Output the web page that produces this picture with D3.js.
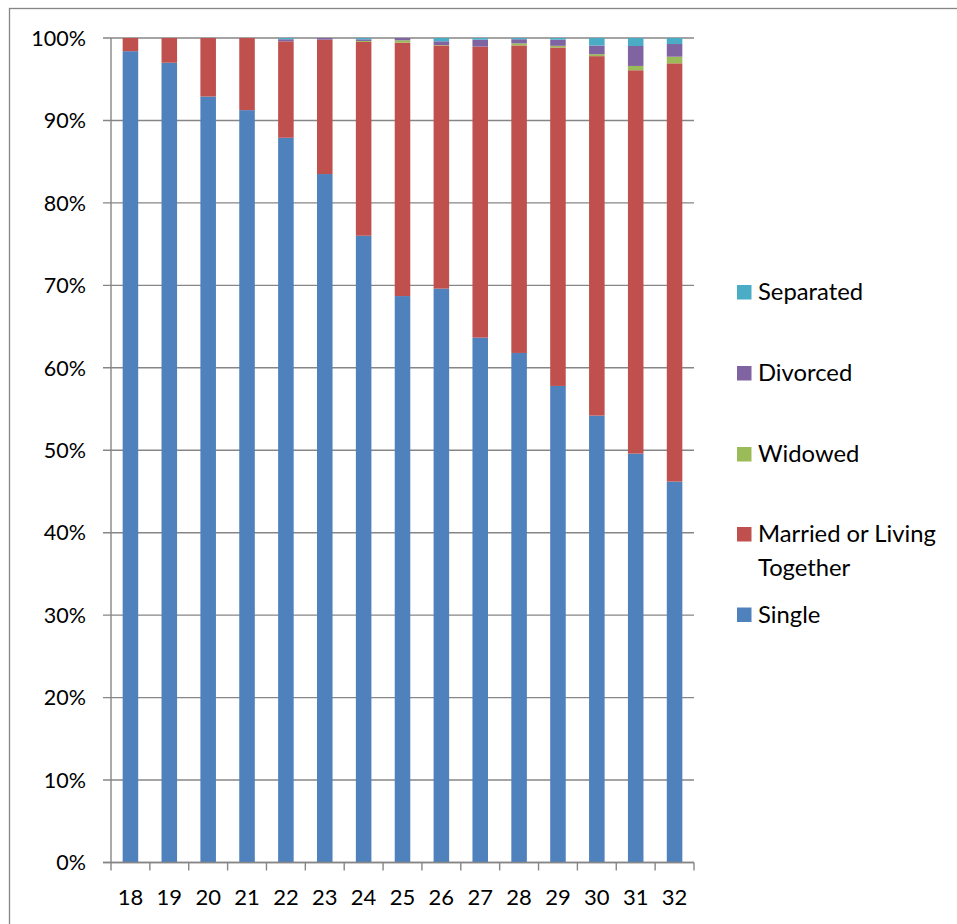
<!DOCTYPE html>
<html>
<head>
<meta charset="utf-8">
<script src="https://cdn.jsdelivr.net/npm/d3@7/dist/d3.min.js"></script>
<style>
  html, body { margin: 0; padding: 0; background: #fff; }
  svg { display: block; }
  text { font-family: Lato, "Noto Sans", sans-serif; fill: #000; }
</style>
</head>
<body>
<svg id="chart" width="957" height="924"></svg>
<script>
// Marital status by age, share of each age group (%)
const ages = ["18","19","20","21","22","23","24","25","26","27","28","29","30","31","32"];
const single    = [98.4, 97.0, 92.9, 91.25, 87.9, 83.5, 76.0, 68.7, 69.6, 63.66, 61.8, 57.8, 54.2, 49.6, 46.2];
const married   = [1.6, 3.0, 7.1, 8.75, 11.7, 16.3, 23.5, 30.74, 29.5, 35.29, 37.3, 41.05, 43.6, 46.5, 50.73];
const widowed   = [0, 0, 0, 0, 0, 0, 0.12, 0.28, 0.05, 0, 0.25, 0.2, 0.24, 0.52, 0.8];
const divorced  = [0, 0, 0, 0, 0.25, 0.2, 0.2, 0.28, 0.45, 0.85, 0.5, 0.75, 1.05, 2.42, 1.54];
const separated = [0, 0, 0, 0, 0.15, 0, 0.16, 0, 0.4, 0.2, 0.15, 0.2, 0.91, 0.97, 0.73];

const seriesNames = ["Single", "Married or Living Together", "Widowed", "Divorced", "Separated"];
const seriesColors = ["#4F81BD", "#C0504D", "#9BBB59", "#8064A2", "#4BACC6"];
const yTickLabels = ["0%","10%","20%","30%","40%","50%","60%","70%","80%","90%","100%"];

const seriesValues = [single, married, widowed, divorced, separated];
const rows = ages.map((age, i) => {
  const r = { age };
  seriesNames.forEach((name, s) => { r[name] = seriesValues[s][i]; });
  return r;
});

const svg = d3.select("#chart");
const plot = { left: 111, right: 694, top: 38, bottom: 862.5 };
const gridColor = "#868686";

// outer chart frame
svg.append("rect")
  .attr("x", 9.5).attr("y", 8.5)
  .attr("width", 1000).attr("height", 1000)
  .attr("fill", "none").attr("stroke", gridColor).attr("stroke-width", 1.3);

const x = d3.scaleBand()
  .domain(ages)
  .range([plot.left, plot.right])
  .paddingInner(0.6)
  .paddingOuter(0.3);

const y = d3.scaleLinear().domain([0, 1]).range([plot.bottom, plot.top]);

// horizontal gridlines with left tick marks
const yTicks = d3.range(0, 11).map(d => d / 10);
svg.append("g").selectAll("line")
  .data(yTicks)
  .join("line")
  .attr("x1", plot.left - 8).attr("x2", plot.right)
  .attr("y1", d => y(d)).attr("y2", d => y(d))
  .attr("stroke", gridColor).attr("stroke-width", 1.4);

svg.append("g").selectAll("text")
  .data(yTicks)
  .join("text")
  .attr("x", 86)
  .attr("y", d => y(d))
  .attr("dy", "0.36em")
  .attr("text-anchor", "end")
  .style("font-size", "21.5px")
  .text((d, i) => yTickLabels[i]);

// stacked 100% bars
const stack = d3.stack().keys(seriesNames).offset(d3.stackOffsetExpand);
const layers = stack(rows);

svg.append("g").selectAll("g")
  .data(layers)
  .join("g")
  .attr("fill", (d, i) => seriesColors[i])
  .selectAll("rect")
  .data(d => d)
  .join("rect")
  .attr("x", d => x(d.data.age))
  .attr("width", x.bandwidth())
  .attr("y", d => y(d[1]))
  .attr("height", d => Math.max(0, y(d[0]) - y(d[1])));

// axes lines
svg.append("line")
  .attr("x1", plot.left).attr("x2", plot.left)
  .attr("y1", plot.top).attr("y2", plot.bottom)
  .attr("stroke", gridColor).attr("stroke-width", 1.4);

svg.append("line")
  .attr("x1", plot.left - 8).attr("x2", plot.right)
  .attr("y1", plot.bottom).attr("y2", plot.bottom)
  .attr("stroke", gridColor).attr("stroke-width", 1.4);

// category boundary ticks below the axis
const step = x.step();
const xBounds = d3.range(0, ages.length + 1).map(i => plot.left + i * step);
svg.append("g").selectAll("line")
  .data(xBounds)
  .join("line")
  .attr("x1", d => d).attr("x2", d => d)
  .attr("y1", plot.bottom).attr("y2", plot.bottom + 8)
  .attr("stroke", gridColor).attr("stroke-width", 1.4);

svg.append("g").selectAll("text")
  .data(ages)
  .join("text")
  .attr("x", d => x(d) + x.bandwidth() / 2)
  .attr("y", 905)
  .attr("text-anchor", "middle")
  .style("font-size", "22px")
  .text(d => d);

// legend (top entry is last series)
const legendItems = [
  { name: "Separated", color: seriesColors[4], y: 285, lines: ["Separated"] },
  { name: "Divorced", color: seriesColors[3], y: 366, lines: ["Divorced"] },
  { name: "Widowed", color: seriesColors[2], y: 447, lines: ["Widowed"] },
  { name: "Married or Living Together", color: seriesColors[1], y: 527, lines: ["Married or Living", "Together"] },
  { name: "Single", color: seriesColors[0], y: 607.5, lines: ["Single"] }
];

const legend = svg.append("g");
legendItems.forEach(item => {
  legend.append("rect")
    .attr("x", 737).attr("y", item.y)
    .attr("width", 14.5).attr("height", 14.5)
    .attr("fill", item.color);
  item.lines.forEach((line, k) => {
    legend.append("text")
      .attr("x", 758)
      .attr("y", item.y + 15 + k * 33.5)
      .style("font-size", "23.8px")
      .text(line);
  });
});
</script>
</body>
</html>
